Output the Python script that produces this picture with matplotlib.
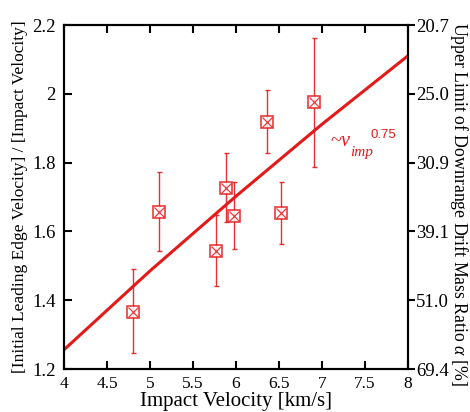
import numpy as np
import matplotlib.pyplot as plt

plt.rcParams.update({
    "font.family": "serif",
    "font.serif": ["Liberation Serif", "DejaVu Serif"],
    "mathtext.fontset": "custom",
    "mathtext.rm": "Liberation Serif",
    "mathtext.it": "Liberation Serif:italic",
    "axes.linewidth": 1.5,
})

# --- data ---
v_imp = [4.80, 5.10, 5.89, 5.77, 5.98, 6.52, 6.36, 6.91]
ratio = [1.367, 1.655, 1.727, 1.543, 1.646, 1.654, 1.919, 1.975]
err_hi = [1.490, 1.774, 1.827, 1.648, 1.743, 1.743, 2.011, 2.161]
err_lo = [1.246, 1.543, 1.628, 1.442, 1.549, 1.563, 1.827, 1.788]

fit_x = [4.0, 5.0, 6.0, 7.0, 8.0]
fit_y = [1.256, 1.485, 1.702, 1.911, 2.110]

yticks = [1.2, 1.4, 1.6, 1.8, 2.0, 2.2]
ytick_labels = ["1.2", "1.4", "1.6", "1.8", "2", "2.2"]
alpha_labels = ["69.4", "51.0", "39.1", "30.9", "25.0", "20.7"]
xticks = [4, 4.5, 5, 5.5, 6, 6.5, 7, 7.5, 8]
xtick_labels = ["4", "4.5", "5", "5.5", "6", "6.5", "7", "7.5", "8"]

red = "#e41a1a"

fig = plt.figure(figsize=(4.70, 4.12), dpi=100)
ax = fig.add_axes([64/470, 1 - 369/412, (407.7-64)/470, (369-25)/412])

# fit line
ax.plot(fit_x, fit_y, color=red, lw=2.2, zorder=3)

# data with asymmetric error bars
y = np.array(ratio)
yerr = [y - np.array(err_lo), np.array(err_hi) - y]
ax.errorbar(v_imp, ratio, yerr=yerr, fmt="none", ecolor=red, elinewidth=1.0,
            capsize=1.8, capthick=1.0, alpha=0.9, zorder=2)
ax.plot(v_imp, ratio, ls="none", marker="s", ms=8.8, mfc="white", mec=red,
        mew=1.2, alpha=0.85, zorder=4)
ax.plot(v_imp, ratio, ls="none", marker="x", ms=6.5, mec=red, mew=0.9,
        alpha=0.85, zorder=5)

# ~v_imp^0.75 annotation
ax.text(7.10, 1.862, r"~$v$", color=red, fontsize=14.5,
        ha="left", va="center")
ax.text(7.33, 1.828, "imp", color=red, fontsize=11, style="italic",
        ha="left", va="center")
ax.text(7.57, 1.88, "0.75", color=red, fontsize=9.5, family="Liberation Sans",
        ha="left", va="center")

ax.set_xlim(4, 8)
ax.set_ylim(1.2, 2.2)
ax.set_xticks(xticks)
ax.set_xticklabels(xtick_labels)
ax.set_yticks(yticks)
ax.set_yticklabels(ytick_labels)
ax.tick_params(axis="both", direction="in", length=6, width=1.5,
               labelsize=12.5, top=True, right=False)
ax.tick_params(axis="y", labelsize=13.5, pad=6)
ax.tick_params(axis="x", pad=5)

ax.set_xlabel("Impact Velocity [km/s]", fontsize=15, labelpad=0)
ax.set_ylabel("[Initial Leading Edge Velocity] / [Impact Velocity]",
              fontsize=12.5, labelpad=3)

ax2 = ax.twinx()
ax2.set_ylim(1.2, 2.2)
ax2.set_yticks(yticks)
ax2.set_yticklabels(alpha_labels)
ax2.tick_params(axis="y", direction="out", length=5, width=1.5,
                labelsize=13.5, pad=1)
ax2.set_ylabel(r"Upper Limit of Downrange Drift Mass Ratio $\alpha$ [%]",
               fontsize=12.8, rotation=270, va="center")
ax2.yaxis.set_label_coords(1.148, 0.48)

fig.savefig("out.png", dpi=100)
